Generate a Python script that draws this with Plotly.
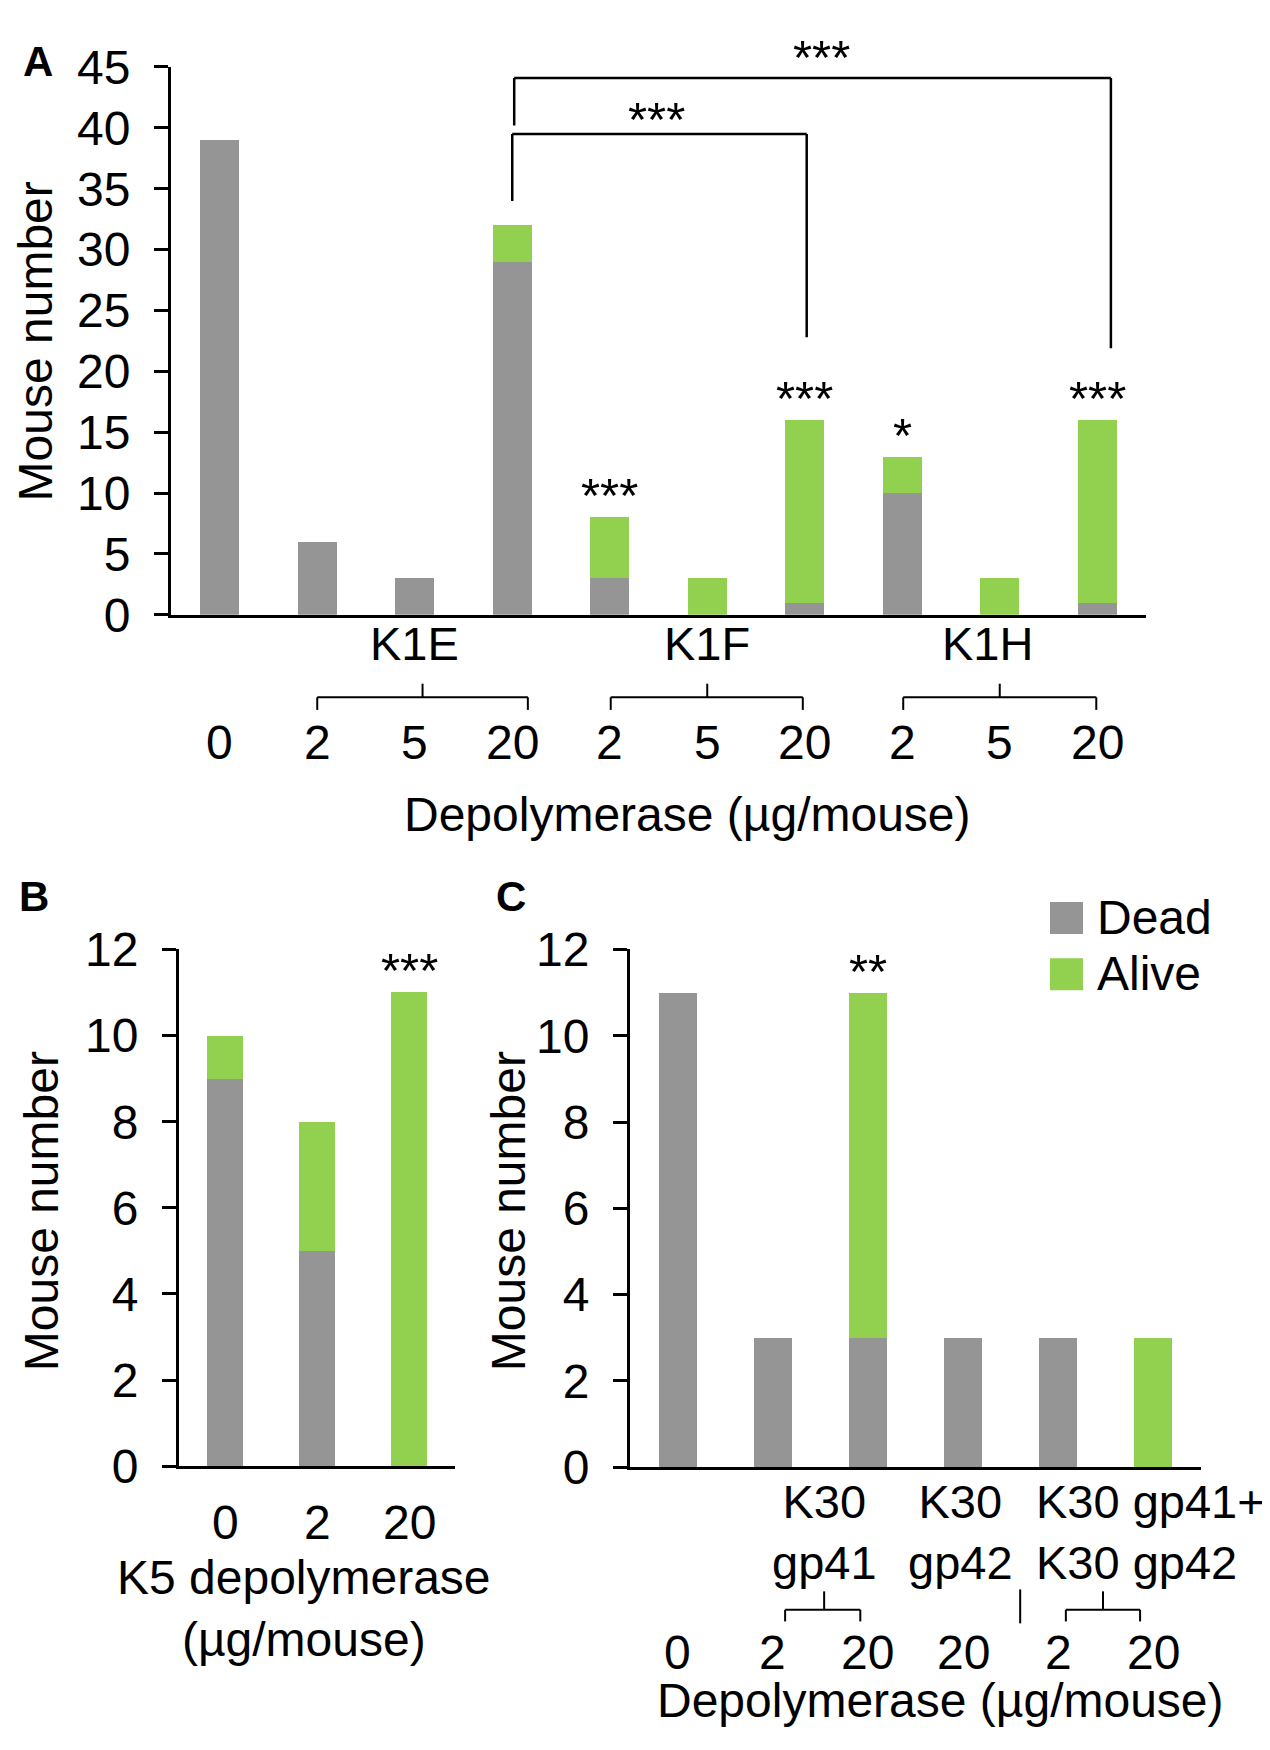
import plotly.graph_objects as go

W, H = 1270, 1750
GRAY = "#959595"
GREEN = "#92D050"
FONT = "Liberation Sans, Arial, Helvetica, sans-serif"
FS = 48

# ---- panel A: K1 depolymerases
a_cats = ["0", "K1E 2", "K1E 5", "K1E 20", "K1F 2", "K1F 5", "K1F 20", "K1H 2", "K1H 5", "K1H 20"]
a_dead = [39, 6, 3, 29, 3, 0, 1, 10, 0, 1]
a_alive = [0, 0, 0, 3, 5, 3, 15, 3, 3, 15]
a_doses = ["0", "2", "5", "20", "2", "5", "20", "2", "5", "20"]
a_groups = ["K1E", "K1F", "K1H"]
a_stars = ["", "", "", "", "***", "", "***", "*", "", "***"]

# ---- panel B: K5 depolymerase
b_cats = ["0", "2", "20"]
b_dead = [9, 5, 0]
b_alive = [1, 3, 11]
b_stars = ["", "", "***"]

# ---- panel C: K30 depolymerases
c_cats = ["0", "gp41 2", "gp41 20", "gp42 20", "gp41+gp42 2", "gp41+gp42 20"]
c_dead = [11, 3, 3, 3, 3, 0]
c_alive = [0, 0, 8, 0, 0, 3]
c_doses = ["0", "2", "20", "20", "2", "20"]
c_groups = ["K30<br>gp41", "K30<br>gp42", "K30 gp41+<br>K30 gp42"]
c_stars = ["", "", "**", "", "", ""]


def X(p):
    return p / W


def Y(p):
    return 1 - p / H


fig = go.Figure()
panels = [
    ("x", "y", a_cats, a_dead, a_alive),
    ("x2", "y2", b_cats, b_dead, b_alive),
    ("x3", "y3", c_cats, c_dead, c_alive),
]
for xa, ya, cats, dead, alive in panels:
    fig.add_bar(x=cats, y=dead, name="Dead", marker_color=GRAY, marker_line_width=0,
                width=0.4, xaxis=xa, yaxis=ya, showlegend=False)
    fig.add_bar(x=cats, y=alive, name="Alive", marker_color=GREEN, marker_line_width=0,
                width=0.4, xaxis=xa, yaxis=ya, showlegend=False)


def xax(left, right, n, anchor):
    return dict(domain=[X(left), X(right)], anchor=anchor, type="category",
                range=[-0.5, n - 0.5], showline=True, linecolor="black", linewidth=3,
                ticks="", showticklabels=False, showgrid=False, zeroline=False)


def yax(top, bottom, ymax, dtick, anchor):
    return dict(domain=[Y(bottom), Y(top)], anchor=anchor, range=[0, ymax],
                dtick=dtick, tick0=0, ticks="outside", ticklen=14, tickwidth=3,
                tickcolor="black", showline=True, linecolor="black", linewidth=3,
                showgrid=False, zeroline=False, tickfont=dict(size=FS),
                ticklabelstandoff=14)


ann = []
shapes = []


def label(x, y, s, size=FS, xref="paper", xanchor="center", **kw):
    ann.append(dict(x=X(x) if xref == "paper" else x, y=Y(y), xref=xref, yref="paper",
                    text=s, showarrow=False, font=dict(size=size),
                    xanchor=xanchor, yanchor="middle", **kw))


def line(x0, y0, x1, y1, xref="paper", yref="paper", width=2):
    shapes.append(dict(type="line", xref=xref, yref=yref, x0=x0, y0=y0, x1=x1, y1=y1,
                       line=dict(color="black", width=width)))


def brace(xref, x0, x1, xm, ybar, yend, ytop):
    line(x0, Y(yend), x0, Y(ybar), xref=xref)
    line(x0, Y(ybar), x1, Y(ybar), xref=xref)
    line(x1, Y(ybar), x1, Y(yend), xref=xref)
    line(xm, Y(ybar), xm, Y(ytop), xref=xref)


def bar_stars(xref, yref, stars, dead, alive):
    for i, s in enumerate(stars):
        if s:
            ann.append(dict(x=i, y=dead[i] + alive[i], xref=xref, yref=yref, text=s,
                            showarrow=False, xanchor="center", yanchor="bottom",
                            yshift=-7, font=dict(size=49)))


# panel A labels
for i, d in enumerate(a_doses):
    label(i, 731, d, xref="x")
for g, gx in zip(a_groups, [2, 5, 7.87]):
    label(gx, 629, g, xref="x", size=47)
for x0, x1, xm in [(1, 3.16, 2.08), (4.01, 5.98, 5.0), (7.01, 8.99, 8.0)]:
    brace("x", x0, x1, xm, 684, 697, 670)
label(679, 805, "Depolymerase (µg/mouse)")
label(27, 317, "Mouse number", textangle=-90)
label(30, 28, "<b>A</b>", size=42)
bar_stars("x", "y", a_stars, a_dead, a_alive)

# significance brackets between groups in A
line(3, 34, 3, 39.5, "x", "y", 2.5)
line(3, 39.5, 6.02, 39.5, "x", "y", 2.5)
line(6.02, 39.5, 6.02, 22.8, "x", "y", 2.5)
line(3.02, 40.2, 3.02, 44.1, "x", "y", 2.5)
line(3.02, 44.1, 9.14, 44.1, "x", "y", 2.5)
line(9.14, 44.1, 9.14, 21.9, "x", "y", 2.5)
label(648, 88, "***", size=49)
label(814, 24, "***", size=49)

# panel B labels
for i, d in enumerate(b_cats):
    label(i, 1535, d, xref="x2")
label(296, 1624, "K5 depolymerase<br>(µg/mouse)")
label(33, 1214, "Mouse number", textangle=-90)
label(26, 889, "<b>B</b>", size=42)
bar_stars("x2", "y2", b_stars, b_dead, b_alive)

# panel C labels
for i, d in enumerate(c_doses):
    label(i, 1669, d, xref="x3")
label(1.54, 1545, c_groups[0], xref="x3", size=47)
label(2.97, 1545, c_groups[1], xref="x3", size=47)
label(3.74, 1545, c_groups[2], xref="x3", size=47, xanchor="left", align="left")
brace("x3", 1.13, 1.92, 1.54, 1625, 1637, 1606)
brace("x3", 4.08, 4.86, 4.47, 1625, 1637, 1606)
line(3.6, Y(1604), 3.6, Y(1639), xref="x3")
label(932, 1719, "Depolymerase (µg/mouse)")
label(500, 1214, "Mouse number", textangle=-90)
label(503, 889, "<b>C</b>", size=42)
bar_stars("x3", "y3", c_stars, c_dead, c_alive)

# legend drawn by hand so the swatches match the reference size
for name, color, top in [("Dead", GRAY, 895), ("Alive", GREEN, 953)]:
    shapes.append(dict(type="rect", xref="paper", yref="paper", x0=X(1042), x1=X(1075),
                       y0=Y(top + 33), y1=Y(top), fillcolor=color, line=dict(width=0)))
    label(1087, top + 16, name, xanchor="left")

fig.update_layout(
    width=W, height=H,
    margin=dict(l=0, r=0, t=0, b=0),
    paper_bgcolor="white", plot_bgcolor="white",
    barmode="stack", showlegend=False,
    font=dict(family=FONT, size=FS, color="black"),
    xaxis=xax(163, 1138, len(a_cats), "y"),
    yaxis=yax(34, 599, 45, 5, "x"),
    xaxis2=xax(171, 447, len(b_cats), "y2"),
    yaxis2=yax(944, 1477, 12, 2, "x2"),
    xaxis3=xax(622, 1193, len(c_cats), "y3"),
    yaxis3=yax(944, 1478, 12, 2, "x3"),
    annotations=ann,
    shapes=shapes,
)

fig.write_html("out.html")
